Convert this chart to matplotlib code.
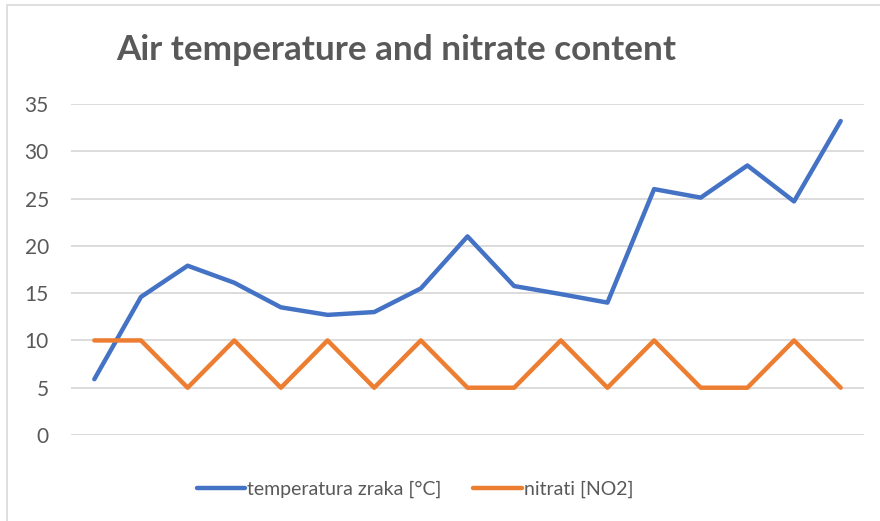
import matplotlib
matplotlib.use("Agg")
import matplotlib.pyplot as plt
from matplotlib.patches import Rectangle

title = "Air temperature and nitrate content"
series_names = ["temperatura zraka [°C]", "nitrati [NO2]"]
temperature = [5.9, 14.6, 17.9, 16.1, 13.5, 12.7, 13.0, 15.5, 21.0, 15.75, 14.9, 14.0, 26.0, 25.1, 28.5, 24.7, 33.2]
nitrates = [10, 10, 5, 10, 5, 10, 5, 10, 5, 5, 10, 5, 10, 5, 5, 10, 5]
yticks = [0, 5, 10, 15, 20, 25, 30, 35]

W, H = 880, 521
fig = plt.figure(figsize=(W/100, H/100), dpi=100)
plt.rcParams['font.family'] = ['Lato', 'DejaVu Sans']

# chart border (left and top visible)
fig.patches.append(Rectangle((7/W, -0.1), 1.2, 1 - 5/H + 0.1, transform=fig.transFigure,
                             fill=False, edgecolor='#D9D9D9', linewidth=1.2))

ax = fig.add_axes([71/W, 1 - 435/H, (864-71)/W, (435-104)/H])
x = list(range(len(temperature)))
ax.plot(x, temperature, color='#4472C4', linewidth=3.2, solid_capstyle='round', solid_joinstyle='round', label=series_names[0], zorder=3)
ax.plot(x, nitrates, color='#ED7D31', linewidth=3.2, solid_capstyle='round', solid_joinstyle='round', label=series_names[1], zorder=3)
ax.set_xlim(-0.5, len(temperature) - 0.5)
ax.set_ylim(0, 35)
ax.set_yticks(yticks)
ax.set_xticks([])
ax.yaxis.grid(True, color='#D9D9D9', linewidth=1.3)
ax.set_axisbelow(True)
for s in ax.spines.values():
    s.set_visible(False)
ax.tick_params(axis='y', length=0, pad=16, labelsize=15, labelcolor='#595959')
for lab in ax.get_yticklabels():
    lab.set_horizontalalignment('right')

fig.text(396/W, 1 - 50/H, title, ha='center', va='center', fontsize=25.3, fontweight='bold', color='#595959')

leg = fig.legend(loc='center', bbox_to_anchor=(415/W, 1 - 489/H), ncol=2, frameon=False,
                 fontsize=14, handlelength=2.5, handletextpad=0.1, columnspacing=1.63,
                 labelcolor='#595959')
for l in leg.get_lines():
    l.set_linewidth(3.2)

fig.savefig('out.png', dpi=100)
